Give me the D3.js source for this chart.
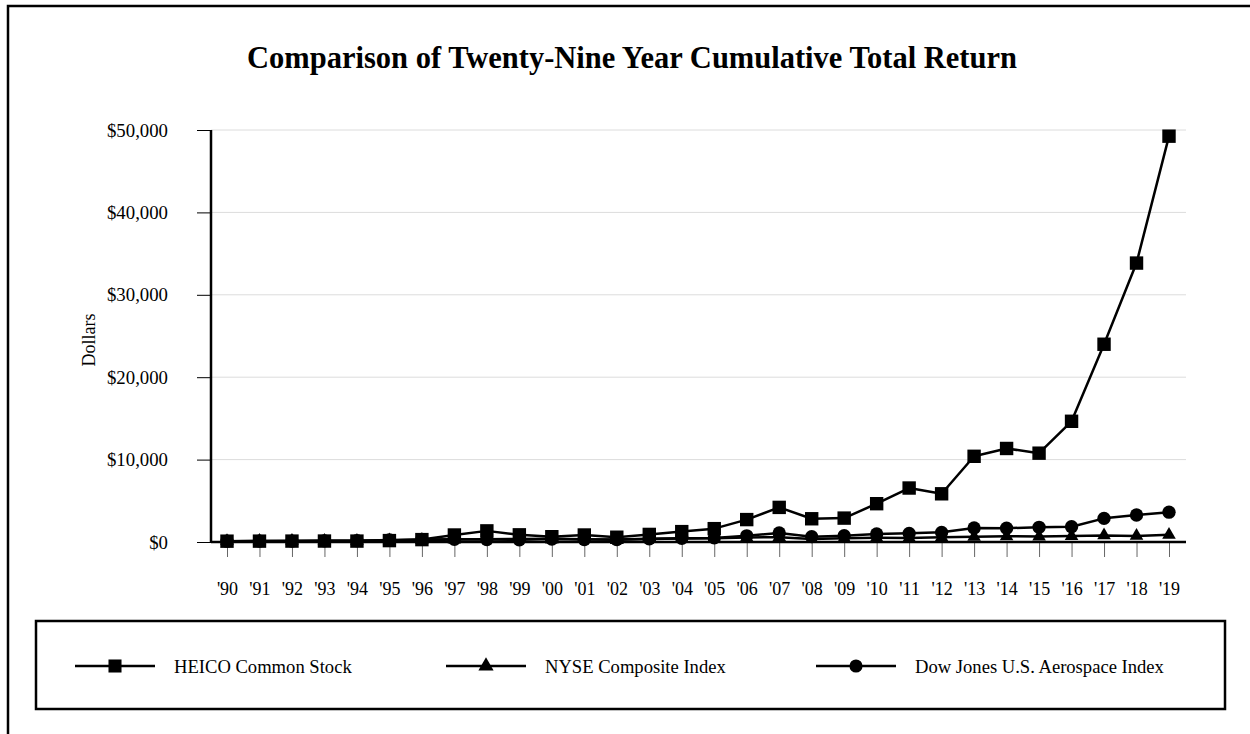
<!DOCTYPE html>
<html>
<head>
<meta charset="utf-8">
<script src="https://cdn.jsdelivr.net/npm/d3@7"></script>
<style>
  html, body { margin: 0; padding: 0; background: #fff; }
  svg { display: block; }
  text { font-family: "Liberation Serif", "Times New Roman", serif; fill: #000; }
</style>
</head>
<body>
<svg id="chart" width="1250" height="734"></svg>
<script>
const years = ["'90","'91","'92","'93","'94","'95","'96","'97","'98","'99","'00","'01","'02","'03","'04","'05","'06","'07","'08","'09","'10","'11","'12","'13","'14","'15","'16","'17","'18","'19"];
const heico = [100, 105, 110, 115, 110, 170, 290, 850, 1350, 870, 640, 850, 580, 920, 1260, 1620, 2720, 4200, 2820, 2900, 4650, 6550, 5850, 10400, 11350, 10780, 14650, 24000, 33850, 49250];
const nyse = [100, 125, 135, 150, 145, 190, 225, 290, 340, 370, 380, 345, 280, 365, 410, 450, 540, 590, 360, 460, 520, 500, 580, 640, 690, 670, 730, 800, 740, 880];
const dowJones = [100, 115, 110, 140, 160, 240, 310, 330, 300, 270, 370, 300, 290, 380, 450, 500, 750, 1100, 650, 770, 970, 1050, 1170, 1700, 1680, 1780, 1860, 2870, 3280, 3620];
const yTicks = [0, 10000, 20000, 30000, 40000, 50000];
const seriesNames = ["HEICO Common Stock", "NYSE Composite Index", "Dow Jones U.S. Aerospace Index"];
const titleText = "Comparison of Twenty-Nine Year Cumulative Total Return";

const svg = d3.select("#chart");

// outer frame
svg.append("rect").attr("x", 8).attr("y", 6).attr("width", 1300).attr("height", 800)
  .attr("fill", "none").attr("stroke", "#000").attr("stroke-width", 2.5);

svg.append("text").attr("x", 632).attr("y", 68).attr("text-anchor", "middle")
  .attr("font-size", 30.5).attr("font-weight", "bold").text(titleText);

const pLeft = 211, pRight = 1186, pTop = 130, pBottom = 542;
const x = d3.scalePoint().domain(years).range([227, 1169]);
const y = d3.scaleLinear().domain([0, 50000]).range([pBottom, pTop]);

// gridlines
svg.append("g").selectAll("line").data(yTicks.filter(d => d > 0)).join("line")
  .attr("x1", pLeft).attr("x2", pRight).attr("y1", d => y(d)).attr("y2", d => y(d))
  .attr("stroke", "#dcdcdc").attr("stroke-width", 1);

// y axis
const yAxis = d3.axisLeft(y).tickValues(yTicks).tickSize(14).tickPadding(29)
  .tickFormat(d => "$" + d3.format(",")(d));
const gy = svg.append("g").attr("transform", `translate(${pLeft},0)`).call(yAxis);
gy.select(".domain").remove();
gy.selectAll(".tick line").attr("stroke", "#000").attr("stroke-width", 1);
gy.selectAll(".tick text").attr("font-size", 18.8).attr("font-family", "Liberation Serif").attr("fill", "#000");

// x axis
const xAxis = d3.axisBottom(x).tickSize(15).tickPadding(25);
const gx = svg.append("g").attr("transform", `translate(0,${pBottom})`).call(xAxis);
gx.select(".domain").remove();
gx.selectAll(".tick line").attr("stroke", "#666").attr("stroke-width", 1);
gx.selectAll(".tick text").attr("font-size", 18).attr("font-family", "Liberation Serif").attr("fill", "#000");

svg.append("text").attr("transform", "translate(95,340) rotate(-90)")
  .attr("text-anchor", "middle").attr("font-size", 18).text("Dollars");

// series
const line = d3.line().x((d, i) => x(years[i])).y(d => y(d));
const sq = d3.symbol().type(d3.symbolSquare).size(180);
const tri = d3.symbol().type(d3.symbolTriangle).size(80);
const circ = d3.symbol().type(d3.symbolCircle).size(140);
const series = [
  { data: nyse, sym: tri },
  { data: dowJones, sym: circ },
  { data: heico, sym: sq }
];
series.forEach(s => {
  svg.append("path").datum(s.data).attr("d", line).attr("fill", "none")
    .attr("stroke", "#000").attr("stroke-width", 2.5).attr("stroke-linejoin", "round");
  svg.append("g").selectAll("path").data(s.data).join("path")
    .attr("d", s.sym).attr("fill", "#000")
    .attr("transform", (d, i) => `translate(${x(years[i])},${y(d)})`);
});

// axis lines
svg.append("line").attr("x1", pLeft).attr("x2", pLeft).attr("y1", pTop).attr("y2", pBottom + 1)
  .attr("stroke", "#000").attr("stroke-width", 2.5);
svg.append("line").attr("x1", pLeft).attr("x2", pRight).attr("y1", pBottom).attr("y2", pBottom)
  .attr("stroke", "#000").attr("stroke-width", 2.5);

// legend
svg.append("rect").attr("x", 36).attr("y", 621).attr("width", 1189).attr("height", 88)
  .attr("fill", "none").attr("stroke", "#000").attr("stroke-width", 2.5);
const legSyms = [d3.symbol().type(d3.symbolSquare).size(170), d3.symbol().type(d3.symbolTriangle).size(100), d3.symbol().type(d3.symbolCircle).size(135)];
const legX = [75, 446, 816];
seriesNames.forEach((name, i) => {
  const g = svg.append("g").attr("transform", `translate(${legX[i]},666)`);
  g.append("line").attr("x1", 0).attr("x2", 80).attr("y1", 0).attr("y2", 0)
    .attr("stroke", "#000").attr("stroke-width", 2.5);
  g.append("path").attr("d", legSyms[i]).attr("transform", "translate(40,0)").attr("fill", "#000");
  g.append("text").attr("x", 99).attr("y", 7).attr("font-size", 18.6).text(name);
});
</script>
</body>
</html>
